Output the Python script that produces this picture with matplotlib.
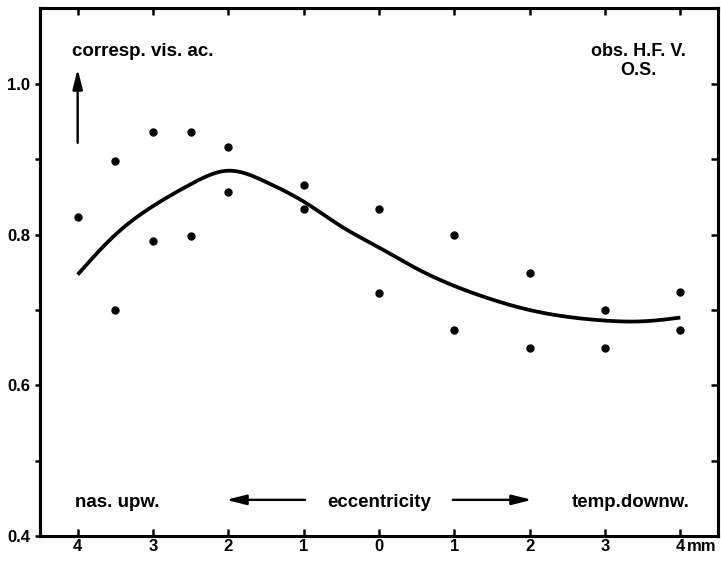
import numpy as np
import matplotlib
matplotlib.use('Agg')
import matplotlib.pyplot as plt

# ---- data ----
dot_ecc = [-4, -3.5, -3.5, -3, -3, -2.5, -2.5, -2, -2, -1, -1,
           0, 0, 1, 1, 2, 2, 3, 3, 4, 4]
dot_acuity = [0.824, 0.898, 0.700, 0.937, 0.791, 0.936, 0.798, 0.916, 0.857,
              0.866, 0.834, 0.834, 0.723, 0.799, 0.673, 0.749, 0.649,
              0.700, 0.649, 0.724, 0.674]

curve_ecc = [-4, -3.5, -3, -2.5, -2, -1.5, -1, -0.5, 0, 0.5, 1, 1.5, 2, 2.5, 3, 3.5, 4]
curve_acuity = [0.747, 0.800, 0.838, 0.867, 0.885, 0.870, 0.844, 0.811, 0.783,
                0.755, 0.732, 0.714, 0.700, 0.691, 0.686, 0.685, 0.690]

x_tick_pos = [-4, -3, -2, -1, 0, 1, 2, 3, 4]
x_tick_labels = ['4', '3', '2', '1', '0', '1', '2', '3', '4']
y_ticks = [0.4, 0.5, 0.6, 0.7, 0.8, 0.9, 1.0]
y_tick_labels = ['0.4', '', '0.6', '', '0.8', '', '1.0']


def natural_spline(x, y, xn):
    x = np.asarray(x, float); y = np.asarray(y, float)
    n = len(x)
    h = np.diff(x)
    A = np.zeros((n, n)); b = np.zeros(n)
    A[0, 0] = 1; A[-1, -1] = 1
    for i in range(1, n - 1):
        A[i, i - 1] = h[i - 1]
        A[i, i] = 2 * (h[i - 1] + h[i])
        A[i, i + 1] = h[i]
        b[i] = 3 * ((y[i + 1] - y[i]) / h[i] - (y[i] - y[i - 1]) / h[i - 1])
    c = np.linalg.solve(A, b)
    out = np.empty_like(xn)
    for k, xv in enumerate(xn):
        i = min(max(np.searchsorted(x, xv) - 1, 0), n - 2)
        d = (c[i + 1] - c[i]) / (3 * h[i])
        bb = (y[i + 1] - y[i]) / h[i] - h[i] * (2 * c[i] + c[i + 1]) / 3
        t = xv - x[i]
        out[k] = y[i] + bb * t + c[i] * t ** 2 + d * t ** 3
    return out


plt.rcParams['font.family'] = ['Liberation Sans', 'DejaVu Sans']
plt.rcParams['font.weight'] = 'bold'

fig = plt.figure(figsize=(7.21, 5.70), dpi=100)
ax = fig.add_axes([40 / 721, 1 - 536 / 570, (718 - 40) / 721, (536 - 8) / 570])
ax.set_xlim(-4.5, 4.5)
ax.set_ylim(0.4, 1.101)

xs = np.linspace(curve_ecc[0], curve_ecc[-1], 300)
ax.plot(xs, natural_spline(curve_ecc, curve_acuity, xs), color='black', lw=2.7,
        solid_capstyle='butt')
ax.plot(dot_ecc, dot_acuity, 'o', ms=5, color='black', mec='black')

for sp in ax.spines.values():
    sp.set_linewidth(2.2)

ax.set_xticks(x_tick_pos, x_tick_labels)
ax.set_xticks([0], minor=True)
ax.tick_params(axis='x', which='major', direction='in', top=True, length=5,
               width=1.8, pad=2.5, labelsize=12)
ax.tick_params(axis='x', which='minor', direction='in', top=True, length=10,
               width=1.8)
ax.set_yticks(y_ticks, y_tick_labels)
ax.tick_params(axis='y', direction='out', length=3.5, width=1.8, pad=3.5,
               labelsize=12)

ax2 = ax.twinx()
ax2.set_ylim(ax.get_ylim())
ax2.set_yticks(y_ticks[1:])
ax2.tick_params(axis='y', direction='in', length=5, width=1.8, labelright=False)
for sp in ax2.spines.values():
    sp.set_linewidth(2.2)

ax.annotate('mm', xy=(4, 0), xycoords=('data', 'axes fraction'),
            xytext=(5, -2.5), textcoords='offset points', ha='left', va='top',
            fontsize=12)

fs = 13.5
arrow_style = dict(arrowstyle='-|>,head_length=0.8,head_width=0.2',
                   lw=1.7, color='black', shrinkA=0, shrinkB=0,
                   mutation_scale=15)
ax.text(-4.07, 1.037, 'corresp. vis. ac.', fontsize=fs, ha='left', va='baseline')
ax.annotate('', xy=(-4, 1.02), xytext=(-4, 0.922), arrowprops=arrow_style)
ax.text(3.44, 1.037, 'obs. H.F. V.', fontsize=13, ha='center', va='baseline')
ax.text(3.44, 1.012, 'O.S.', fontsize=13, ha='center', va='baseline')

ax.text(-4.04, 0.439, 'nas. upw.', fontsize=fs, ha='left', va='baseline')
ax.text(0, 0.439, 'eccentricity', fontsize=fs, ha='center', va='baseline')
ax.text(4.12, 0.439, 'temp.downw.', fontsize=fs, ha='right', va='baseline')
ax.annotate('', xy=(-2.03, 0.448), xytext=(-0.98, 0.448), arrowprops=arrow_style)
ax.annotate('', xy=(2.03, 0.448), xytext=(0.98, 0.448), arrowprops=arrow_style)

fig.savefig('out.png', dpi=100)
